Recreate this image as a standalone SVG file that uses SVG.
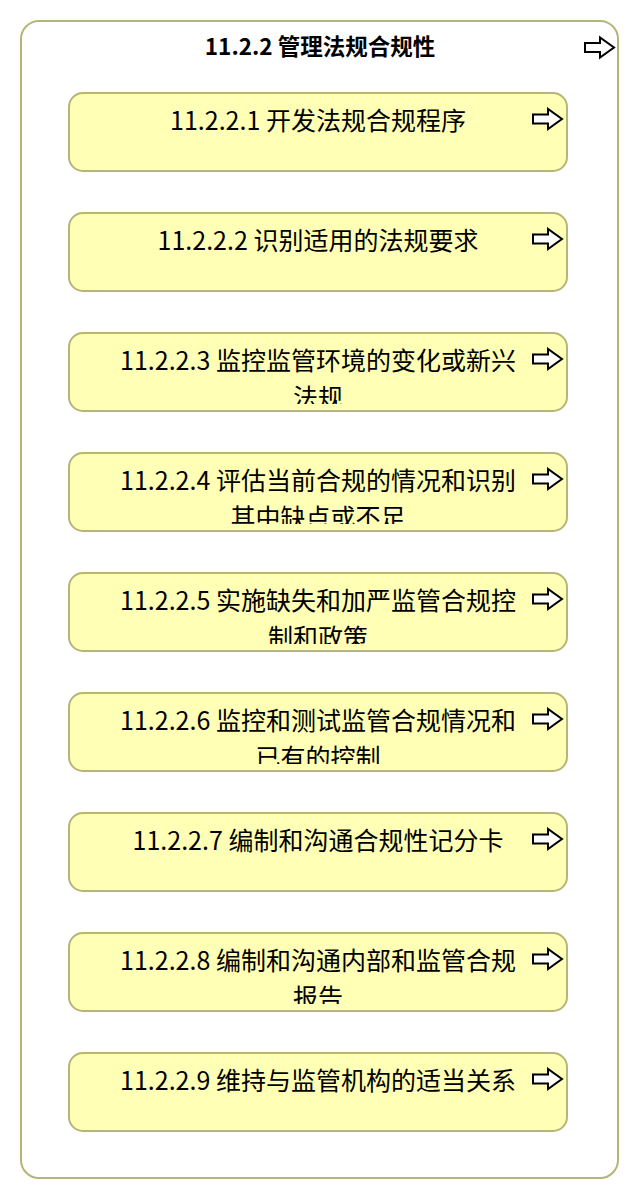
<svg xmlns="http://www.w3.org/2000/svg" width="640" height="1200" viewBox="0 0 640 1200">
<style>
.outer{fill:#ffffff;stroke:#b5b57a;stroke-width:2}
.box{fill:#ffffb5;stroke:#b5b57a;stroke-width:2}
.title{font-family:"Noto Sans CJK SC","Noto Sans",sans-serif;font-size:22.5px;font-weight:bold;fill:#000;text-anchor:middle}
.lbl{font-family:"Noto Sans CJK SC","Noto Sans",sans-serif;font-size:25px;fill:#000;text-anchor:middle}
.arw{fill:#ffffff;stroke:#000;stroke-width:2;stroke-linejoin:miter}
</style>
<defs>
<path id="arrow" class="arw" d="M0,-4.5 H15 V-10 L29,0 L15,10 V4.5 H0 Z"/>
<clipPath id="c3"><rect x="69" y="333" width="498" height="71"/></clipPath>
<clipPath id="c4"><rect x="69" y="453" width="498" height="71"/></clipPath>
<clipPath id="c5"><rect x="69" y="573" width="498" height="71"/></clipPath>
<clipPath id="c6"><rect x="69" y="693" width="498" height="71"/></clipPath>
<clipPath id="c8"><rect x="69" y="933" width="498" height="71"/></clipPath>
</defs>
<g id="n11.2.2">
<rect class="outer" x="21" y="21" width="597" height="1157" rx="18"/>
<text class="title" x="320" y="55">11.2.2 管理法规合规性</text>
<use href="#arrow" x="585" y="47.5"/>
</g>
<g id="connectors"></g>
<g id="n11.2.2.1">
<rect class="box" x="69" y="93" width="498" height="78" rx="14"/>
<text class="lbl" x="318" y="130">11.2.2.1 开发法规合规程序</text>
<use href="#arrow" x="533" y="119"/>
</g>
<g id="n11.2.2.2">
<rect class="box" x="69" y="213" width="498" height="78" rx="14"/>
<text class="lbl" x="318" y="250">11.2.2.2 识别适用的法规要求</text>
<use href="#arrow" x="533" y="239"/>
</g>
<g id="n11.2.2.3">
<rect class="box" x="69" y="333" width="498" height="78" rx="14"/>
<g clip-path="url(#c3)">
<text class="lbl" x="318" y="370">11.2.2.3 监控监管环境的变化或新兴</text>
<text class="lbl" x="318" y="407">法规</text>
</g>
<use href="#arrow" x="533" y="359"/>
</g>
<g id="n11.2.2.4">
<rect class="box" x="69" y="453" width="498" height="78" rx="14"/>
<g clip-path="url(#c4)">
<text class="lbl" x="318" y="490">11.2.2.4 评估当前合规的情况和识别</text>
<text class="lbl" x="318" y="527">其中缺点或不足</text>
</g>
<use href="#arrow" x="533" y="479"/>
</g>
<g id="n11.2.2.5">
<rect class="box" x="69" y="573" width="498" height="78" rx="14"/>
<g clip-path="url(#c5)">
<text class="lbl" x="318" y="610">11.2.2.5 实施缺失和加严监管合规控</text>
<text class="lbl" x="318" y="647">制和政策</text>
</g>
<use href="#arrow" x="533" y="599"/>
</g>
<g id="n11.2.2.6">
<rect class="box" x="69" y="693" width="498" height="78" rx="14"/>
<g clip-path="url(#c6)">
<text class="lbl" x="318" y="730">11.2.2.6 监控和测试监管合规情况和</text>
<text class="lbl" x="318" y="767">已有的控制</text>
</g>
<use href="#arrow" x="533" y="719"/>
</g>
<g id="n11.2.2.7">
<rect class="box" x="69" y="813" width="498" height="78" rx="14"/>
<text class="lbl" x="318" y="850">11.2.2.7 编制和沟通合规性记分卡</text>
<use href="#arrow" x="533" y="839"/>
</g>
<g id="n11.2.2.8">
<rect class="box" x="69" y="933" width="498" height="78" rx="14"/>
<g clip-path="url(#c8)">
<text class="lbl" x="318" y="970">11.2.2.8 编制和沟通内部和监管合规</text>
<text class="lbl" x="318" y="1007">报告</text>
</g>
<use href="#arrow" x="533" y="959"/>
</g>
<g id="n11.2.2.9">
<rect class="box" x="69" y="1053" width="498" height="78" rx="14"/>
<text class="lbl" x="318" y="1090">11.2.2.9 维持与监管机构的适当关系</text>
<use href="#arrow" x="533" y="1079"/>
</g>
</svg>
